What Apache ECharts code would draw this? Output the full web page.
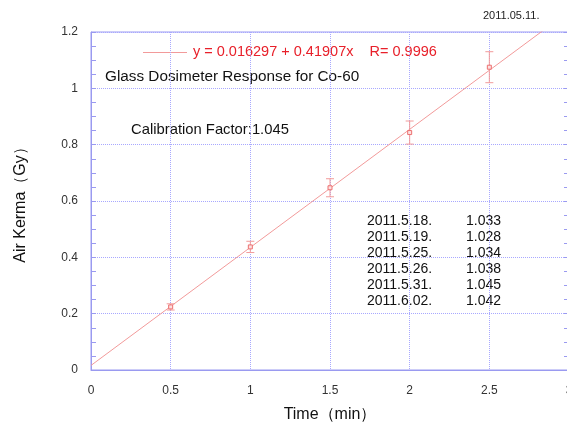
<!DOCTYPE html>
<html>
<head>
<meta charset="utf-8">
<script src="https://cdn.jsdelivr.net/npm/echarts@6/dist/echarts.min.js"></script>
<style>
html,body{margin:0;padding:0;background:#fff;}
#chart{width:567px;height:426px;}
</style>
</head>
<body>
<div id="chart"></div>
<script>
// ---- data ----
const timeMin = [0.5, 1, 1.5, 2, 2.5];
const airKerma = [0.224, 0.437, 0.647, 0.843, 1.075];
const errBar = [0.011, 0.02, 0.032, 0.041, 0.055];
const fitLineX = [0, 3];
const fitLineY = [0.0163, 1.2735];
const fitLabel = 'y = 0.016297 + 0.41907x    R= 0.9996';
const calDates = ['2011.5.18.', '2011.5.19.', '2011.5.25.', '2011.5.26.', '2011.5.31.', '2011.6.02.'];
const calFactors = ['1.033', '1.028', '1.034', '1.038', '1.045', '1.042'];
const headerDate = '2011.05.11.';
const chartTitle = 'Glass Dosimeter Response for Co-60';
const calText = 'Calibration Factor:1.045';

const FONT = '"Liberation Sans", Arial, sans-serif';
const RED = '#e8202a';
const PINK = '#f29a9a';
const AXIS = '#9a9af0';
const GRIDC = '#a8a8ff';

const chart = echarts.init(document.getElementById('chart'), null, {renderer: 'canvas'});

const errData = timeMin.map((t, i) => [t, airKerma[i], errBar[i]]);
const fitData = fitLineX.map((x, i) => [x, fitLineY[i]]);

const tableGraphics = [];
calDates.forEach((d, i) => {
  tableGraphics.push({type: 'text', left: 367, top: 214 + i * 16,
    style: {text: d, font: '14px ' + FONT, fill: '#111'}});
  tableGraphics.push({type: 'text', left: 466, top: 214 + i * 16,
    style: {text: calFactors[i], font: '14px ' + FONT, fill: '#111'}});
});

chart.setOption({
  animation: false,
  backgroundColor: '#fff',
  grid: {left: 91, right: -2, top: 32, bottom: 56, show: true, borderColor: AXIS, borderWidth: 1,
         containLabel: false, outerBoundsMode: 'none'},
  xAxis: {
    type: 'value', min: 0, max: 3, interval: 0.5,
    name: 'Time（min）', nameLocation: 'middle', nameGap: 37,
    nameTextStyle: {fontSize: 16, color: '#111', fontFamily: FONT},
    axisLine: {show: true, lineStyle: {color: AXIS}},
    axisTick: {show: false},
    axisLabel: {color: '#333', fontSize: 12, fontFamily: FONT, margin: 15},
    splitLine: {show: true, lineStyle: {color: GRIDC, type: [1, 1]}},
  },
  yAxis: [{
    type: 'value', min: 0, max: 1.2, interval: 0.2,
    name: 'Air Kerma（Gy）', nameLocation: 'middle', nameGap: 62,
    nameTextStyle: {fontSize: 16, color: '#111', fontFamily: FONT},
    axisLine: {show: true, lineStyle: {color: AXIS}},
    axisTick: {show: true, inside: true, length: 5, lineStyle: {color: AXIS}},
    minorTick: {show: true, splitNumber: 4, length: 5, lineStyle: {color: AXIS}},
    axisLabel: {color: '#333', fontSize: 12, fontFamily: FONT, margin: 13},
    splitLine: {show: true, lineStyle: {color: GRIDC, type: [1, 1]}},
  }, {
    type: 'value', min: 0, max: 1.2, interval: 0.2, position: 'right',
    axisLine: {show: true, lineStyle: {color: AXIS}},
    axisTick: {show: true, inside: true, length: 5, lineStyle: {color: AXIS}},
    minorTick: {show: true, splitNumber: 4, length: 5, lineStyle: {color: AXIS}},
    axisLabel: {show: false},
    splitLine: {show: false},
  }],
  series: [{
    name: fitLabel, type: 'line', data: fitData, symbol: 'none',
    lineStyle: {color: PINK, width: 1}, itemStyle: {color: PINK},
    clip: true, z: 2,
  }, {
    type: 'custom', data: errData, z: 3, clip: false,
    renderItem: function (params, api) {
      const x = api.value(0), y = api.value(1), e = api.value(2);
      const p = api.coord([x, y]);
      const t = api.coord([x, y + e]);
      const b = api.coord([x, y - e]);
      const st = {stroke: PINK, lineWidth: 1};
      return {type: 'group', children: [
        {type: 'line', shape: {x1: p[0], y1: t[1], x2: p[0], y2: b[1]}, style: st},
        {type: 'line', shape: {x1: p[0] - 4, y1: t[1], x2: p[0] + 4, y2: t[1]}, style: st},
        {type: 'line', shape: {x1: p[0] - 4, y1: b[1], x2: p[0] + 4, y2: b[1]}, style: st},
        {type: 'rect', shape: {x: p[0] - 2, y: p[1] - 2, width: 4, height: 4},
          style: {stroke: '#ec7070', fill: '#fde0e0', lineWidth: 1}}
      ]};
    }
  }],
  graphic: [
    {type: 'text', left: 483, top: 10, style: {text: headerDate, font: '11px ' + FONT, fill: '#222'}},
    {type: 'line', shape: {x1: 143, y1: 52.5, x2: 187, y2: 52.5}, style: {stroke: PINK, lineWidth: 1}},
    {type: 'text', left: 193, top: 44, style: {text: fitLabel, font: '14.5px ' + FONT, fill: RED}},
    {type: 'text', left: 105, top: 69, style: {text: chartTitle, font: '15.3px ' + FONT, fill: '#111'}},
    {type: 'text', left: 131, top: 122, style: {text: calText, font: '14.8px ' + FONT, fill: '#111'}},
  ].concat(tableGraphics),
});
</script>
</body>
</html>
